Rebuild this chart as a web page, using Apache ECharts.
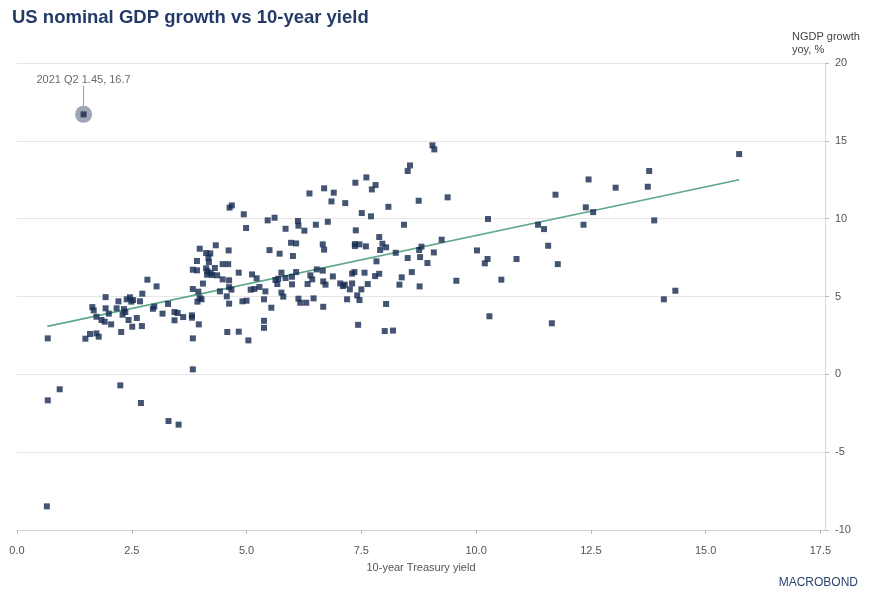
<!DOCTYPE html>
<html>
<head>
<meta charset="utf-8">
<script src="https://cdn.jsdelivr.net/npm/echarts@6/dist/echarts.min.js"></script>
<style>
html,body{margin:0;padding:0;background:#fff;}
#chart{width:874px;height:599px;}
</style>
</head>
<body>
<div id="chart"></div>
<script>
// 10-year yield vs NGDP growth yoy (%)
const points = [
[0.67,2.31],[0.67,-1.67],[0.93,-0.96],[0.65,-8.48],
[1.49,2.29],[1.59,2.59],[1.73,2.63],[1.78,2.42],[1.64,4.32],[1.67,4.11],[1.73,3.70],[1.84,3.49],[1.91,3.38],[1.93,4.96],[1.93,4.24],[2.0,3.90],[2.05,3.21],[2.17,4.24],[2.21,4.69],[2.27,2.72],[2.30,3.83],[2.33,4.19],[2.36,4.0],[2.39,4.82],[2.43,3.49],[2.46,4.95],[2.49,4.67],[2.53,4.77],[2.51,3.06],[2.61,3.62],[2.68,4.69],[2.72,3.10],[2.73,5.18],[2.84,6.08],[3.04,5.65],[2.96,4.21],[2.99,4.35],[3.17,3.90],[3.29,4.52],[3.43,4.00],[3.50,3.94],[3.43,3.47],[3.62,3.68],[3.81,3.79],[3.81,3.64],[3.83,2.31],[3.83,0.32],[3.83,5.48],[3.96,3.21],
[2.25,-0.71],[2.70,-1.84],[3.30,-3.0],[3.52,-3.23],
[6.37,11.62],[4.63,10.71],[4.68,10.85],[4.94,10.28],[4.99,9.40],[5.46,9.89],[5.61,10.06],[6.12,9.85],[6.13,9.55],[6.51,9.61],[6.26,9.23],[5.85,9.35],[4.33,8.29],[3.98,8.07],[4.12,7.79],[4.21,7.77],[4.17,7.49],[3.92,7.28],[4.18,7.21],[4.61,7.96],[4.48,7.08],[4.60,7.08],[5.50,7.98],[5.72,7.75],[5.97,8.45],[6.08,8.41],[6.01,7.60],[3.83,6.72],[3.92,6.68],[4.12,6.81],[4.15,6.62],[4.31,6.83],[4.22,6.51],[4.14,6.40],[4.25,6.38],[4.36,6.36],[4.05,5.83],[4.48,6.10],[4.62,6.04],[4.83,6.53],[5.12,6.42],[5.22,6.17],[3.95,5.31],[3.98,4.90],[3.93,4.67],[4.02,4.82],[4.42,5.33],[4.57,5.01],[4.62,5.60],[4.67,5.44],[4.62,4.54],[4.91,4.69],[5.0,4.73],[5.09,5.44],[5.17,5.48],[5.28,5.61],[5.41,5.33],[5.38,4.82],[5.54,4.28],[5.63,6.06],[5.69,6.14],[5.76,6.53],[5.85,6.19],[5.67,5.80],[5.76,5.25],[5.80,4.99],[5.99,6.27],[5.99,5.78],[6.08,6.57],[6.13,4.86],[6.17,4.60],[6.30,4.60],[6.33,5.80],[6.39,6.36],[6.43,6.10],[6.46,4.88],[6.53,6.74],
[6.67,4.34],[4.58,2.72],[4.83,2.74],[5.04,2.18],[5.38,3.44],[5.38,2.99],
[9.05,14.71],[9.09,14.45],[8.51,13.06],[8.56,13.42],[7.37,12.31],[7.61,12.65],[7.73,11.88],[7.81,12.16],[6.69,11.95],[6.90,11.67],[6.85,11.11],[7.15,11.0],[8.09,10.76],[8.75,11.15],[9.38,11.37],[7.51,10.36],[7.71,10.15],[6.77,9.80],[7.38,9.25],[8.43,9.61],[7.89,8.82],[6.66,8.35],[6.69,8.01],[7.36,8.37],[7.36,8.24],[7.46,8.35],[7.60,8.22],[7.96,8.39],[8.04,8.16],[7.91,7.99],[8.25,7.81],[9.25,8.65],[8.81,8.20],[8.76,7.99],[9.08,7.83],[8.51,7.47],[8.78,7.53],[8.94,7.15],[7.83,7.26],[8.60,6.57],[8.38,6.23],[8.33,5.76],[8.77,5.65],[9.57,6.01],[6.66,6.66],[6.67,5.97],[6.72,5.76],[6.88,6.29],[7.04,5.84],[7.10,5.67],[7.14,5.76],[7.25,5.46],[7.30,5.84],[7.30,6.47],[7.35,6.57],[7.57,6.53],[7.50,5.46],[7.64,5.80],[7.80,6.31],[7.89,6.46],[7.41,5.07],[7.46,4.77],[7.19,4.82],[8.04,4.52],[7.43,3.18],[8.01,2.78],[8.19,2.81],
[15.73,14.15],[13.77,13.06],[13.74,12.05],[12.45,12.52],[13.04,11.99],[11.73,11.54],[12.39,10.73],[12.55,10.42],[10.26,9.98],[13.88,9.89],[11.35,9.61],[11.48,9.33],[12.34,9.61],[11.57,8.26],[10.02,7.96],[10.25,7.41],[10.19,7.13],[10.88,7.41],[11.78,7.08],[10.55,6.08],[14.34,5.37],[14.09,4.82],[10.29,3.73],[11.65,3.28],
[1.45,16.7]
];
const highlight = [[1.45, 16.7]];
const highlightLabel = '2021 Q2 1.45, 16.7';
const trendLine = [[0.66, 3.08], [15.73, 12.50]];
const xTicks = [0, 2.5, 5, 7.5, 10, 12.5, 15, 17.5];
const yTicks = [-10, -5, 0, 5, 10, 15, 20];

const chart = echarts.init(document.getElementById('chart'));
const navy = '#152a50';
const sans = "'Liberation Sans',Arial,sans-serif";
const labelFont = "'Liberation Sans Narrow','Liberation Sans',Arial,sans-serif";
chart.setOption({
  animation: false,
  backgroundColor: '#fff',
  title: {
    text: 'US nominal GDP growth vs 10-year yield',
    left: 12, top: 8, padding: 0,
    textStyle: {fontFamily: sans, fontWeight: 'bold', fontSize: 18.5, color: '#243b67'}
  },
  grid: {left: 17, right: 49, top: 63, bottom: 69, containLabel: false, outerBoundsMode: 'none'},
  xAxis: {
    type: 'value', min: 0, max: 17.6,
    name: '10-year Treasury yield', nameLocation: 'middle', nameGap: 32,
    nameTextStyle: {fontFamily: labelFont, fontSize: 11, color: '#555'},
    axisLine: {show: true, onZero: false, lineStyle: {color: '#d0d0d0'}},
    axisTick: {show: true, length: 4, lineStyle: {color: '#bbb'}, customValues: xTicks},
    axisLabel: {fontFamily: labelFont, fontSize: 11, color: '#555', margin: 15, customValues: xTicks,
      formatter: v => v.toFixed(1)},
    splitLine: {show: false}
  },
  yAxis: {
    type: 'value', position: 'right', min: -10, max: 20, interval: 5,
    name: 'NGDP growth\nyoy, %', nameLocation: 'end', nameGap: 7,
    nameTextStyle: {fontFamily: sans, fontSize: 11, color: '#444', align: 'left', lineHeight: 13, padding: [0, 0, 0, -33]},
    axisLine: {show: true, onZero: false, lineStyle: {color: '#d8d8d8'}},
    axisTick: {show: true, length: 4, lineStyle: {color: '#bbb'}},
    axisLabel: {fontFamily: sans, fontSize: 11, color: '#555', margin: 10},
    splitLine: {show: true, lineStyle: {color: '#e6e6e6'}}
  },
  graphic: [{
    type: 'text', right: 16, bottom: 10,
    style: {text: 'MACROBOND', fontFamily: sans, fontSize: 12, fill: '#2d4370'}
  }],
  series: [
    {
      type: 'scatter', data: highlight, symbol: 'circle', symbolSize: 17, z: 2,
      itemStyle: {color: '#8790a6'},
      label: {show: true, position: 'top', distance: 5, formatter: highlightLabel,
        fontFamily: sans, fontSize: 11, color: '#444'},
      labelLayout: {dy: -15},
      labelLine: {show: true, lineStyle: {color: '#999', width: 1}}
    },
    {
      type: 'line', data: trendLine, symbol: 'none', z: 3,
      lineStyle: {color: '#5fa88c', width: 1.6}
    },
    {
      type: 'scatter', data: points, symbol: 'rect', symbolSize: 6, z: 4,
      itemStyle: {color: navy}
    }
  ]
});
</script>
</body>
</html>
